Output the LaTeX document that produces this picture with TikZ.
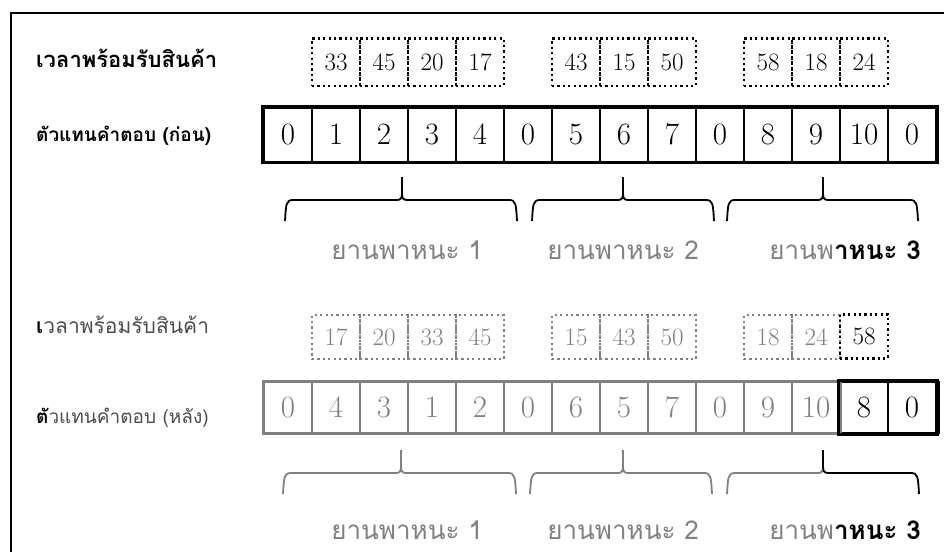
\documentclass[tikz,border=0pt]{standalone}
\usepackage{fontspec}
\newfontfamily\thaifont[Script=Thai]{Loma}
\usetikzlibrary{positioning}
\definecolor{faded}{gray}{0.5}
\definecolor{dimtext}{gray}{0.3}

\begin{document}
\begin{tikzpicture}[
  x=1pt, y=-1pt,
  cell/.style={draw, line width=1.6pt, minimum width=48pt, minimum height=54pt, inner sep=0pt, font=\fontsize{31}{31}\selectfont},
  ready/.style={draw, line width=2.2pt, dash pattern=on 2.2pt off 3.2pt, minimum width=48pt, minimum height=47pt, inner sep=0pt, font=\fontsize{25}{25}\selectfont},
  dim/.style={draw=faded, text=faded},
  hot/.style={draw=black, text=black, line width=2.8pt},
  rowlabel/.style={anchor=west, inner sep=0pt, font=\thaifont\bfseries\fontsize{22}{22}\selectfont},
  vehicle/.style={inner sep=0pt, text=faded, font=\thaifont\fontsize{26}{26}\selectfont},
  brace/.style={line width=1.8pt}
]
\useasboundingbox (0,0) rectangle (944,551);
\draw[line width=1.8pt] (11,570) -- (11,13) -- (960,13);

% before
\node[rowlabel] (readyA) at (36,58) {เวลาพร้อมรับสินค้า};
\node[rowlabel, font=\thaifont\bfseries\fontsize{19}{19}\selectfont] (answerA) at (36,136) {ตัวแทนคำตอบ (ก่อน)};
\foreach \v [count=\i from 0] in {0,1,2,3,4,0,5,6,7,0,8,9,10,0}
  \node[cell] (a\i) at ({288+48*\i},134.5) {\v};
\draw[line width=3.6pt] (a0.north west) rectangle (a13.south east);
\foreach \v/\c in {33/1,45/2,20/3,17/4,43/6,15/7,50/8,58/10,18/11,24/12}
  \node[ready, above=20pt of a\c] (ra\c) {\v};

\foreach \l/\t/\r/\y/\lc/\rc in {285/402/517/200/black/black, 532/623/714/200/black/black, 727/823/918/200/black/black,
    283/401/516/473/faded/faded, 530/623/712/473/faded/faded, 727/823/919/473/faded/black}{
  \draw[brace, \lc] (\l,\y+21) .. controls (\l+1,\y+4) and (\l+1,\y) .. (\l+8,\y) -- (\t-5,\y)
    .. controls (\t-1,\y) and (\t,\y-2) .. (\t,\y-7) -- (\t,\y-23);
  \draw[brace, \rc] (\t,\y-23) -- (\t,\y-7) .. controls (\t,\y-2) and (\t+1,\y) .. (\t+5,\y)
    -- (\r-8,\y) .. controls (\r-1,\y) and (\r-1,\y+4) .. (\r,\y+21);
}

\node[vehicle] (va1) at (407,250) {ยานพาหนะ 1};
\node[vehicle] (va2) at (623,250) {ยานพาหนะ 2};
\node[vehicle] (va3) at (845,250) {ยานพ\textcolor{black}{\bfseries าหนะ 3}};

% after
\node[rowlabel, font=\thaifont\fontsize{21}{21}\selectfont, text=dimtext] (readyB) at (36,325) {\textcolor{black}{\bfseries เ}วลาพร้อมรับสินค้า};
\node[rowlabel, font=\thaifont\fontsize{19}{19}\selectfont, text=dimtext] (answerB) at (36,418) {\textcolor{black}{\bfseries ตั}วแทนคำตอบ (หลัง)};
\foreach \v/\s [count=\i from 0] in {0/dim,4/dim,3/dim,1/dim,2/dim,0/dim,6/dim,5/dim,7/dim,0/dim,9/dim,10/dim,8/hot,0/hot}
  \node[cell, minimum height=51pt, \s] (b\i) at ({288+48*\i},407.5) {\v};
\draw[line width=2.4pt, faded] (b0.north west) rectangle (b11.south east);
\draw[line width=3pt] (b12.north west) rectangle (b13.south east);
\draw[line width=4.5pt] (b13.north east) -- (b13.south east);
\foreach \v/\c/\s in {17/1/dim,20/2/dim,33/3/dim,45/4/dim,15/6/dim,43/7/dim,50/8/dim,18/10/dim,24/11/dim,58/12/hot}
  \node[ready, minimum height=44pt, \s, above=21pt of b\c] (rb\c) {\v};

\node[vehicle] (vb1) at (407,530) {ยานพาหนะ 1};
\node[vehicle] (vb2) at (623,530) {ยานพาหนะ 2};
\node[vehicle] (vb3) at (845,530) {ยานพ\textcolor{black}{\bfseries าหนะ 3}};
\end{tikzpicture}
\end{document}
